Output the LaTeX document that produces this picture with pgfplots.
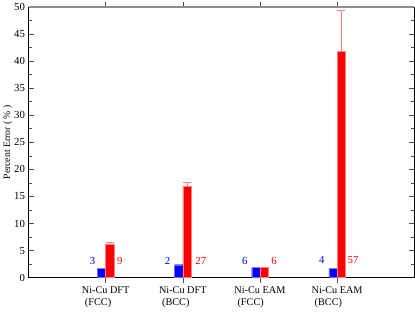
\documentclass[border=0pt]{standalone}
\usepackage{pgfplots}
\pgfplotsset{compat=1.18}
\usepackage{fontspec}
\setmainfont{Liberation Serif}
\definecolor{myblue}{RGB}{0,0,255}
\definecolor{myred}{RGB}{255,0,0}
\begin{document}
\begin{tikzpicture}
\begin{axis}[
  scale only axis, width=375bp, height=263bp,
  xmin=0, xmax=5, ymin=0, ymax=50,
  xtick={1,2,3,4},
  xticklabels={{Ni-Cu DFT\\\hspace*{0.3em}(FCC)},{Ni-Cu DFT\\\hspace*{0.3em}(BCC)},{Ni-Cu EAM\\\hspace*{0.3em}(FCC)},{Ni-Cu EAM\\\hspace*{0.3em}(BCC)}},
  xticklabel style={align=left, font=\fontsize{10}{12}\selectfont},
  ytick={0,5,...,50}, minor y tick num=1,
  yticklabel style={font=\fontsize{10.5}{12}\selectfont},
  /pgf/number format/assume math mode=true,
  tick align=inside,
  major tick length=5bp, minor tick length=3bp,
  ylabel={Percent Error ( \% )},
  ylabel style={font=\fontsize{9.5}{11}\selectfont, yshift=-5bp},
  axis line style={line width=0.8pt},
  tick style={line width=0.6pt, black!70},
  ybar, bar width=8bp,
  clip=false,
]
\addplot[fill=myblue, draw=myblue!60, bar shift=-4bp,
  error bars/.cd, y dir=plus, y explicit, error bar style={myblue!50}, error mark options={rotate=90, mark size=4bp, myblue!50}]
  coordinates {(1,1.65) +- (0,0.05) (2,2.25) +- (0,0.2) (3,1.85) +- (0,0.05) (4,1.7) +- (0,0.05)};
\addplot[fill=myred, draw=myred!50, bar shift=4bp,
  error bars/.cd, y dir=plus, y explicit, error bar style={myred!50}, error mark options={rotate=90, mark size=4bp, myred!50}]
  coordinates {(1,6.1) +- (0,0.4) (2,16.9) +- (0,0.8) (3,1.85) +- (0,0.1) (4,41.8) +- (0,7.7)};
\draw[black!45, line width=1.4pt] (rel axis cs:0,1) -- (rel axis cs:1,1);
\begin{scope}[font=\fontsize{10.5}{12}\selectfont, inner sep=0pt]
\node[anchor=east, text=myblue] at ([xshift=-10bp]axis cs:1,3.1) {3};
\node[anchor=west, text=myred] at ([xshift=11bp]axis cs:1,3.1) {9};
\node[anchor=east, text=myblue] at ([xshift=-12bp]axis cs:2,3.1) {2};
\node[anchor=west, text=myred] at ([xshift=12bp]axis cs:2,3.1) {27};
\node[anchor=east, text=myblue] at ([xshift=-12bp]axis cs:3,3.1) {6};
\node[anchor=west, text=myred] at ([xshift=11bp]axis cs:3,3.1) {6};
\node[anchor=east, text=myblue] at ([xshift=-12bp]axis cs:4,3.2) {4};
\node[anchor=west, text=myred] at ([xshift=10bp]axis cs:4,3.2) {57};
\end{scope}
\end{axis}
\end{tikzpicture}
\end{document}
